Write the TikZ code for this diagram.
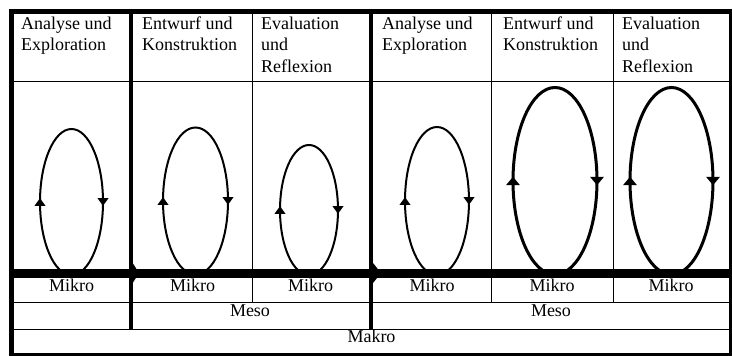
\documentclass[tikz,border=0pt]{standalone}
\usepackage{fontspec}
\setmainfont{Liberation Serif}
\newcommand\tipup[4]{\fill (#1,#2-#4) -- (#1+#3,#2+#4) -- (#1-#3,#2+#4) -- cycle;}
\newcommand\tipdown[4]{\fill (#1,#2+#4) -- (#1+#3,#2-#4) -- (#1-#3,#2-#4) -- cycle;}
% cx, cy, a, b, line width, tip half width, tip half height
\newcommand\kreislauf[7]{%
  \draw[line width=#5] (#1,#2) ellipse [x radius=#3pt, y radius=#4pt];
  \tipup{#1-#3}{#2}{#6}{#7}
  \tipdown{#1+#3}{#2}{#6}{#7}}
\begin{document}
\begin{tikzpicture}[x=1pt,y=-1pt,
  thinline/.style={line width=0.9pt},
  thickline/.style={line width=4.5pt},
  band/.style={line width=9pt},
  lbl/.style={font=\fontsize{18}{21.7}\selectfont, inner sep=0pt},
  hdr/.style={lbl, align=left, anchor=north west},
  rowlbl/.style={lbl, anchor=base}]
\useasboundingbox (0,0) rectangle (732,356);
\fill[white] (0,0) rectangle (732,356);

% loops
\kreislauf{71.5}{202}{31.5}{73}{2pt}{5.5}{3.8}
\kreislauf{195.5}{201}{32.5}{73.5}{2pt}{5.5}{3.8}
\kreislauf{309}{210}{29}{65}{2pt}{5.5}{3.8}
\kreislauf{437}{201}{32}{74}{2pt}{5.5}{3.8}
\kreislauf{555}{181}{42}{93.5}{3pt}{7}{4.2}
\kreislauf{671.5}{181}{41.5}{93.5}{3pt}{7}{4.2}

% thin horizontal rules
\draw[thinline] (11.5,81.5) -- (730.5,81.5);
\draw[thinline] (11.5,302) -- (730.5,302);
\draw[thinline] (11.5,329) -- (730.5,329);

% thin vertical rules
\draw[thinline] (252,11.5) -- (252,302);
\draw[thinline] (491,11.5) -- (491,302);
\draw[thinline] (613,11.5) -- (613,302);

% thick band with arrow tips
\draw[band] (11.5,273) -- (730.5,273);
\fill (133,263.5) -- (139,273) -- (133,282.5) -- cycle;
\fill (373,263) -- (381,273) -- (373,283) -- cycle;

% thick verticals
\draw[thickline] (131,9.25) -- (131,329);
\draw[thickline] (371,9.25) -- (371,329);

% frame
\draw[thickline] (9.25,11.5) -- (732,11.5);
\draw[thickline] (11.5,9.25) -- (11.5,356);
\draw[line width=3pt] (730.5,9.25) -- (730.5,356);
\draw[line width=2.5pt] (9.25,354.5) -- (732,354.5);

% header texts
\node[hdr] (h1) at (21,13.8) {\strut Analyse und\\Exploration};
\node[hdr] (h2) at (142,13.8) {\strut Entwurf und\\Konstruktion};
\node[hdr] (h3) at (261,13.8) {\strut Evaluation\\und\\Reflexion};
\node[hdr] (h4) at (382,13.8) {\strut Analyse und\\Exploration};
\node[hdr] (h5) at (503,13.8) {\strut Entwurf und\\Konstruktion};
\node[hdr] (h6) at (622,13.8) {\strut Evaluation\\und\\Reflexion};

% Mikro
\node[rowlbl] (m1) at (71.5,291.7) {Mikro};
\node[rowlbl] (m2) at (192.5,291.7) {Mikro};
\node[rowlbl] (m3) at (310.5,291.7) {Mikro};
\node[rowlbl] (m4) at (432,291.7) {Mikro};
\node[rowlbl] (m5) at (552,291.7) {Mikro};
\node[rowlbl] (m6) at (671,291.7) {Mikro};

% Meso, Makro
\node[rowlbl] (meso1) at (250,316) {Meso};
\node[rowlbl] (meso2) at (551,316) {Meso};
\node[rowlbl] (makro) at (371.5,342.7) {Makro};
\end{tikzpicture}
\end{document}
